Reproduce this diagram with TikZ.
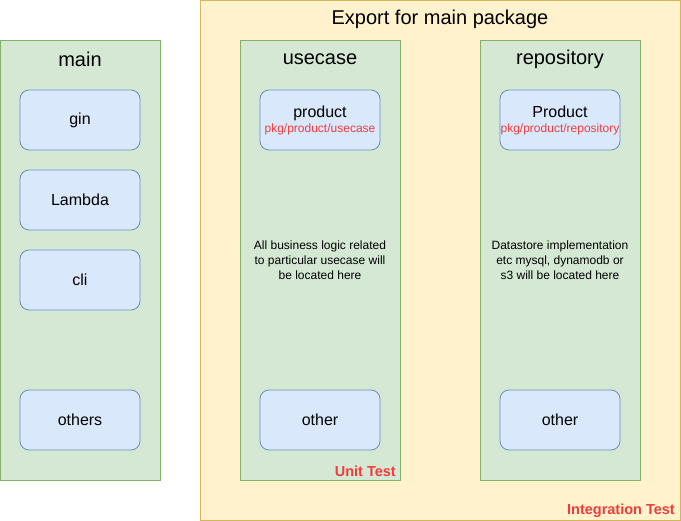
\documentclass[tikz,border=0pt]{standalone}
\usepackage{fontspec}
\setmainfont{Liberation Sans}
\definecolor{ylfill}{HTML}{FFF2CC}
\definecolor{yldraw}{HTML}{D6B656}
\definecolor{grfill}{HTML}{D5E8D4}
\definecolor{grdraw}{HTML}{82B366}
\definecolor{blfill}{HTML}{DAE8FC}
\definecolor{bldraw}{HTML}{6C8EBF}
\definecolor{redtxt}{HTML}{F03C3C}
\newcommand\mysubtxt[1]{{\fontsize{12}{14}\selectfont\color{redtxt}#1}}
\tikzset{
  pkg/.style={fill=grfill,draw=grdraw,line width=0.8pt},
  item/.style={fill=blfill,draw=bldraw,line width=0.8pt,rounded corners=9pt,minimum width=120pt,minimum height=60pt,inner sep=0pt,align=center,font=\fontsize{16}{19}\selectfont},
  ttl/.style={font=\fontsize{20}{23}\selectfont,inner sep=0pt},
  desc/.style={font=\fontsize{12}{15}\selectfont,align=center,inner sep=0pt},
  tst/.style={font=\fontsize{14.5}{17}\selectfont\bfseries,text=redtxt,inner sep=0pt}
}
\begin{document}
\begin{tikzpicture}[x=1pt,y=-1pt]
\useasboundingbox (0,0) rectangle (681,521);
\fill[ylfill,draw=yldraw,line width=0.8pt] (200.5,0.5) rectangle (680,520);
\node[ttl] (exptitle) at (440,19) {Export for main package};
\draw[pkg] (0.5,40) rectangle (160,480);
\draw[pkg] (240,40) rectangle (400,480);
\draw[pkg] (480,40) rectangle (640,480);
\node[ttl] (maint) at (80,59) {main};
\node[ttl] (uct) at (320,59) {usecase};
\node[ttl] (rpt) at (560,59) {repository};
\node[item] (gin) at (80,120) {gin};
\node[item] (lambda) at (80,200) {Lambda};
\node[item] (cli) at (80,280) {cli};
\node[item] (others) at (80,420) {others};
\node[item] (ucprod) at (320,120) {product\\[-4pt]\mysubtxt{pkg/product/usecase}};
\node[item] (ucother) at (320,420) {other};
\node[item] (rpprod) at (560,120) {Product\\[-4pt]\mysubtxt{pkg/product/repository}};
\node[item] (rpother) at (560,420) {other};
\node[desc] (ucdesc) at (320,260) {All business logic related\\to particular usecase will\\be located here};
\node[desc] (rpdesc) at (560,260) {Datastore implementation\\etc mysql, dynamodb or\\s3 will be located here};
\node[tst,anchor=east] (unit) at (396,471) {Unit Test};
\node[tst,anchor=east] (integ) at (675,511) {Integration Test};
\end{tikzpicture}
\end{document}
